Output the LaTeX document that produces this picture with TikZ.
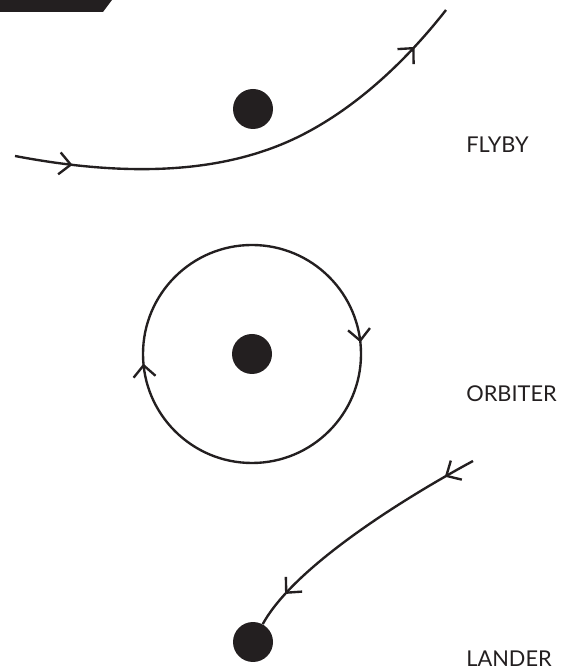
\documentclass[tikz,border=0pt]{standalone}
\usepackage{fontspec}
\setsansfont{Lato}
\usetikzlibrary{arrows.meta, decorations.markings}
\definecolor{ink}{HTML}{231F20}

\begin{document}
\begin{tikzpicture}[
    x=0.02cm, y=0.02cm,
    planet/.style={circle, fill=ink, draw=none, minimum size=0.8cm, inner sep=0pt},
    mission_label/.style={anchor=west, inner sep=0pt, text=ink, font=\sffamily\fontsize{12.4}{14}\selectfont},
    trajectory/.style={draw=ink, line width=1.35pt},
    mid_arrows/.style 2 args={postaction={decorate}, decoration={markings,
        mark=at position #1 with {\arrow{Straight Barb[length=2.3mm, width=4.4mm]}},
        mark=at position #2 with {\arrow{Straight Barb[length=2.3mm, width=4.4mm]}}}}
]

    \useasboundingbox (0,0) rectangle (569,671);

    % --- corner tab ---
    \fill[ink] (0,671) -- (112,671) -- (103,659) -- (0,659) -- cycle;

    % --- Flyby ---
    \node[planet] (flyby_planet) at (253,562) {};
    \coordinate (flyby_start) at (15,515);
    \coordinate (flyby_end) at (446,661);
    \draw[trajectory, mid_arrows={0.12}{0.9}] (flyby_start) .. controls (120,495) and (220,495) .. (300,535)
        .. controls (360,565) and (410,615) .. (flyby_end);
    \node[mission_label] (flyby) at (466,526) {FLYBY};

    % --- Orbiter ---
    \node[planet] (orbiter_planet) at (252,317) {};
    \draw[trajectory, mid_arrows={0.233}{0.736}] (orbiter_planet.center) ++(0,109)
        arc[start angle=90, end angle=-270, radius=109];
    \node[mission_label] (orbiter) at (466,277) {ORBITER};

    % --- Lander ---
    \node[planet] (lander_planet) at (253,29) {};
    \coordinate (lander_start) at (473,210);
    \draw[trajectory, mid_arrows={0.12}{0.86}] (lander_start) .. controls (410,176) and (295,106) .. (lander_planet);
    \node[mission_label] (lander) at (466,12) {LANDER};

\end{tikzpicture}
\end{document}
